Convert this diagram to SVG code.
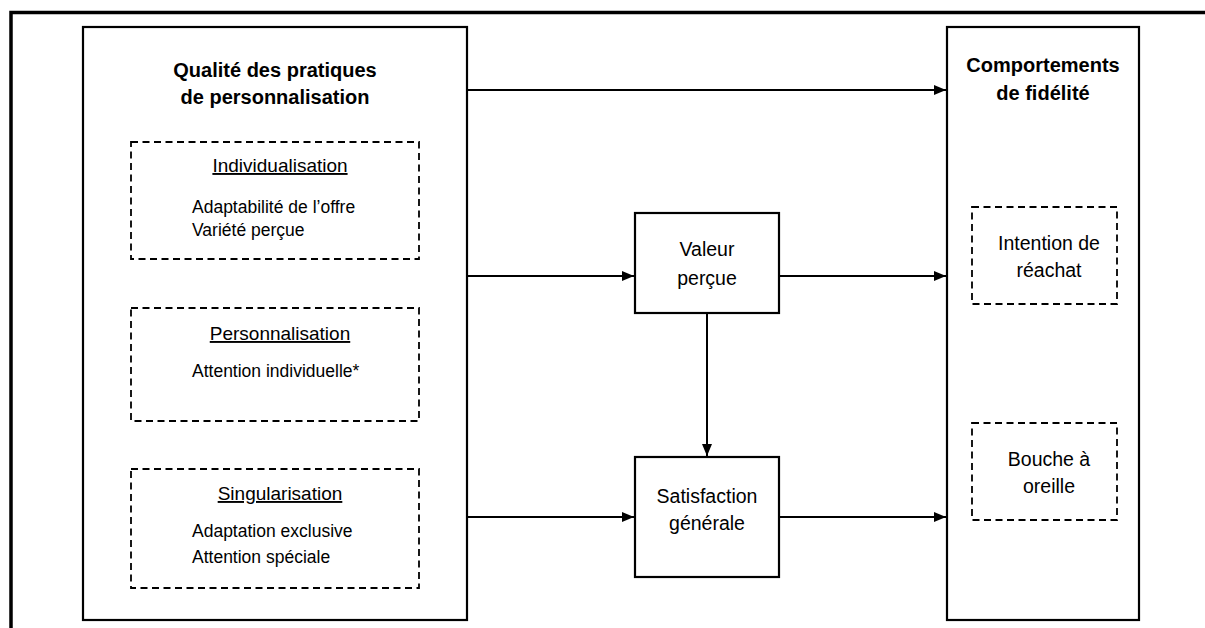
<svg xmlns="http://www.w3.org/2000/svg" width="1205" height="628" viewBox="0 0 1205 628">
<style>
  text{font-family:"Liberation Sans",Arial,sans-serif;fill:#000}
  .title{font-size:20px;font-weight:bold;text-anchor:middle}
  .lbl{font-size:19.5px;text-anchor:middle}
  .head{font-size:19px;text-anchor:middle;text-decoration:underline}
  .body{font-size:17.5px}
  .box{fill:none;stroke:#000;stroke-width:2.2}
  .dash{fill:none;stroke:#000;stroke-width:1.8;stroke-dasharray:7 4.5}
  .conn{fill:none;stroke:#000;stroke-width:2;marker-end:url(#arr)}
</style>
<defs>
  <marker id="arr" markerUnits="userSpaceOnUse" markerWidth="12" markerHeight="10" refX="12" refY="5" orient="auto">
    <path d="M0,0 L12,5 L0,10 Z" fill="#000"/>
  </marker>
</defs>
<rect width="1205" height="628" fill="#fff"/>
<path id="frame" d="M11,628 V12.5 H1205" fill="none" stroke="#000" stroke-width="3.5"/>

<g id="qualite">
  <rect class="box" x="83" y="27" width="384" height="593"/>
  <text class="title" x="275" y="77">Qualité des pratiques</text>
  <text class="title" x="275" y="104">de personnalisation</text>
</g>
<g id="individualisation">
  <rect class="dash" x="131" y="142" width="288" height="117"/>
  <text class="head" x="280" y="172">Individualisation</text>
  <text class="body" x="192" y="213">Adaptabilité de l’offre</text>
  <text class="body" x="192" y="236">Variété perçue</text>
</g>
<g id="personnalisation">
  <rect class="dash" x="131" y="308" width="288" height="113"/>
  <text class="head" x="280" y="340">Personnalisation</text>
  <text class="body" x="192" y="377">Attention individuelle*</text>
</g>
<g id="singularisation">
  <rect class="dash" x="131" y="469" width="288" height="119"/>
  <text class="head" x="280" y="500">Singularisation</text>
  <text class="body" x="192" y="537">Adaptation exclusive</text>
  <text class="body" x="192" y="563">Attention spéciale</text>
</g>
<g id="valeur">
  <rect class="box" x="635" y="213" width="144" height="100"/>
  <text class="lbl" x="707" y="256">Valeur</text>
  <text class="lbl" x="707" y="285">perçue</text>
</g>
<g id="satisfaction">
  <rect class="box" x="635" y="457" width="144" height="120"/>
  <text class="lbl" x="707" y="503">Satisfaction</text>
  <text class="lbl" x="707" y="530">générale</text>
</g>
<g id="comportements">
  <rect class="box" x="947" y="27" width="192" height="593"/>
  <text class="title" x="1043" y="72">Comportements</text>
  <text class="title" x="1043" y="100">de fidélité</text>
</g>
<g id="intention">
  <rect class="dash" x="972" y="207" width="145" height="97"/>
  <text class="lbl" x="1049" y="250">Intention de</text>
  <text class="lbl" x="1049" y="277">réachat</text>
</g>
<g id="bouche">
  <rect class="dash" x="972" y="423" width="145" height="97"/>
  <text class="lbl" x="1049" y="466">Bouche à</text>
  <text class="lbl" x="1049" y="493">oreille</text>
</g>

<g id="connectors">
  <line class="conn" x1="468" y1="90" x2="946" y2="90"/>
  <line class="conn" x1="468" y1="276" x2="634" y2="276"/>
  <line class="conn" x1="780" y1="276" x2="946" y2="276"/>
  <line class="conn" x1="707" y1="314" x2="707" y2="456"/>
  <line class="conn" x1="468" y1="517" x2="634" y2="517"/>
  <line class="conn" x1="780" y1="517" x2="946" y2="517"/>
</g>
</svg>
